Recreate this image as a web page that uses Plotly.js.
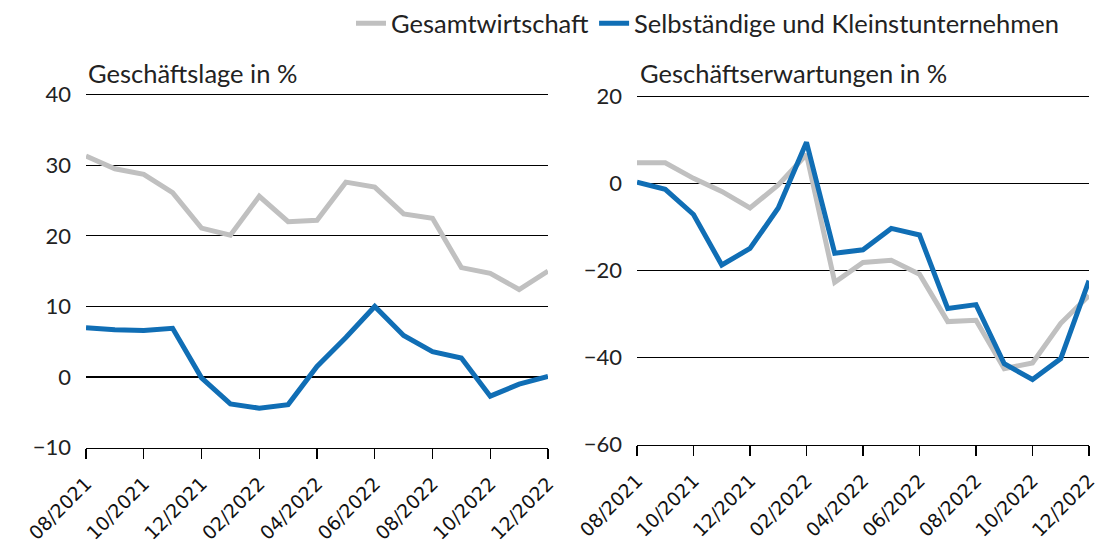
<!DOCTYPE html>
<html>
<head>
<meta charset="utf-8">
<script src="https://cdn.plot.ly/plotly-3.0.1.min.js"></script>
<style>html,body{margin:0;padding:0;background:#fff;}#chart{width:1098px;height:551px;}</style>
</head>
<body>
<div id="chart"></div>
<script>
const months = ["08/2021","09/2021","10/2021","11/2021","12/2021","01/2022","02/2022","03/2022","04/2022","05/2022","06/2022","07/2022","08/2022","09/2022","10/2022","11/2022","12/2022"];
const tickMonths = ["08/2021","10/2021","12/2021","02/2022","04/2022","06/2022","08/2022","10/2022","12/2022"];
const lageGesamt = [31.3,29.5,28.7,26.1,21.1,20.1,25.6,22.0,22.2,27.6,26.9,23.1,22.5,15.5,14.7,12.4,15.0];
const lageSelbst = [7.0,6.7,6.6,6.9,-0.1,-3.8,-4.4,-3.9,1.5,5.6,10.0,5.9,3.6,2.7,-2.7,-1.0,0.1];
const erwGesamt = [4.8,4.8,1.2,-1.8,-5.6,-0.3,6.7,-22.7,-18.1,-17.6,-20.8,-31.7,-31.4,-42.5,-41.2,-32.1,-25.7];
const erwSelbst = [0.3,-1.3,-7.1,-18.7,-14.9,-5.6,9.5,-16.0,-15.2,-10.3,-11.8,-28.7,-27.8,-41.4,-45.0,-40.2,-22.3];
const seriesNames = ["Gesamtwirtschaft","Selbständige und Kleinstunternehmen"];
const panelTitles = ["Geschäftslage in %","Geschäftserwartungen in %"];

const GRAY = "#c0c0c0", BLUE = "#106eb5";
const FONT = "Lato, 'Noto Sans', sans-serif";
const XFONT = "'DejaVu Sans', Verdana, sans-serif";

const traces = [
  {x: months, y: lageGesamt, name: seriesNames[0], xaxis:"x", yaxis:"y", mode:"lines", line:{color:GRAY,width:5}, legendgroup:"g"},
  {x: months, y: lageSelbst, name: seriesNames[1], xaxis:"x", yaxis:"y", mode:"lines", line:{color:BLUE,width:5}, legendgroup:"s"},
  {x: months, y: erwGesamt, name: seriesNames[0], xaxis:"x2", yaxis:"y2", mode:"lines", line:{color:GRAY,width:5}, showlegend:false, legendgroup:"g"},
  {x: months, y: erwSelbst, name: seriesNames[1], xaxis:"x2", yaxis:"y2", mode:"lines", line:{color:BLUE,width:5}, showlegend:false, legendgroup:"s"}
];

function xax(domain, anchor){
  return {domain: domain, anchor: anchor, type:"category", categoryorder:"array", categoryarray: months,
    range:[0,16], tickmode:"array", tickvals: tickMonths, ticktext: tickMonths, tickangle:-45,
    ticks:"outside", ticklen:10, tickcolor:"#000", tickwidth:1.2, showline:true, linecolor:"#000", linewidth:1.5,
    ticklabelstandoff:6,
    showgrid:false, zeroline:false, tickfont:{family:XFONT, size:19, color:"#111"}, fixedrange:true};
}
// range tops are padded slightly so the top gridline is not clipped at the plot edge
function yax(domain, anchor, range, dtick){
  return {domain: domain, anchor: anchor, range: range, dtick: dtick, tick0: range[0],
    showgrid:true, gridcolor:"#000", gridwidth:1.2, zeroline:false, showline:false,
    ticks:"", ticklabelstandoff:14, tickfont:{family:FONT, size:22, color:"#222"}, fixedrange:true};
}
// left: 40 at y=87, -10 at y=446 -> 7.18 px/unit; pad 0.5 unit
// right: 20 at y=89, -60 at y=443 -> 4.425 px/unit; pad 0.8 unit
const layout = {
  width:1098, height:551, margin:{l:0,r:0,t:0,b:0},
  paper_bgcolor:"#fff", plot_bgcolor:"#fff",
  font:{family:FONT, color:"#222"},
  xaxis: xax([86/1098, 548/1098], "y"),
  yaxis: yax([1-446/551, 1-(87-0.5*7.18)/551], "x", [-10,40.5], 10),
  xaxis2: xax([637/1098, 1089/1098], "y2"),
  yaxis2: yax([1-443/551, 1-(89-0.8*4.425)/551], "x2", [-60,20.8], 20),
  showlegend:true,
  legend:{orientation:"h", x:1064/1098, xanchor:"right", y:1-15/551, yanchor:"middle",
    font:{family:FONT, size:25.5, color:"#222"}, itemwidth:30, tracegroupgap:0, bgcolor:"rgba(0,0,0,0)"},
  annotations:[
    {text: panelTitles[0], xref:"paper", yref:"paper", x:86/1098, y:1-65/551, xanchor:"left", yanchor:"middle", showarrow:false, font:{family:FONT, size:25.5, color:"#222"}},
    {text: panelTitles[1], xref:"paper", yref:"paper", x:638/1098, y:1-65/551, xanchor:"left", yanchor:"middle", showarrow:false, font:{family:FONT, size:25.5, color:"#222"}}
  ]
};

Plotly.newPlot("chart", traces, layout, {displayModeBar:false, staticPlot:true});
</script>
</body>
</html>
